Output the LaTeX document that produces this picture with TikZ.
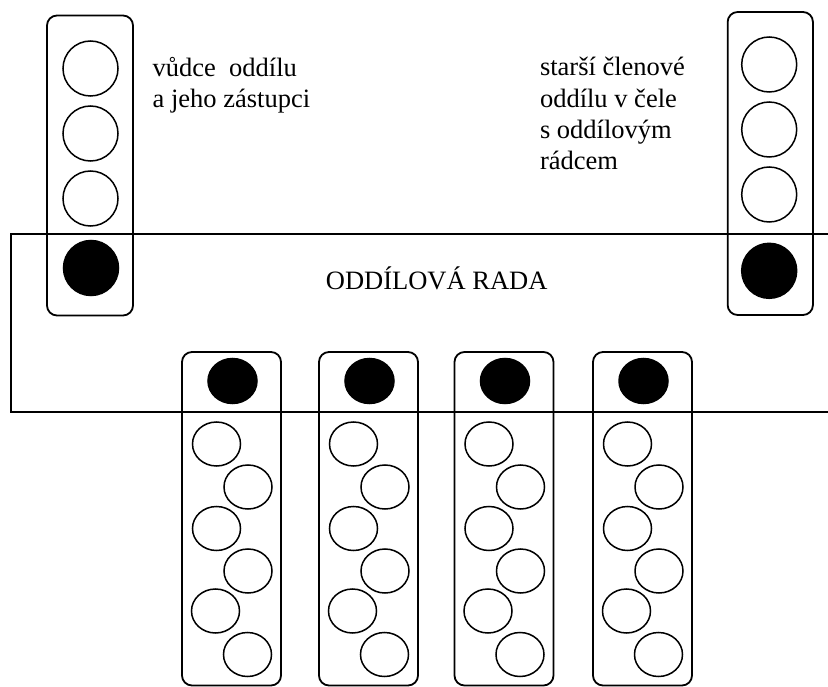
\documentclass[tikz,border=0pt]{standalone}
\usepackage{fontspec}
\setmainfont{Liberation Serif}
\usetikzlibrary{shapes.geometric}

\begin{document}
\begin{tikzpicture}[x=1pt, y=-1pt,
  every node/.append style={inner sep=0pt, outer sep=0pt},
  label text/.style={anchor=base west, font=\fontsize{26.5pt}{30pt}\selectfont},
  tallbox/.style={draw, line width=1.8pt, rounded corners=10pt, minimum width=86pt, minimum height=300pt},
  lowbox/.style={draw, line width=1.8pt, rounded corners=10pt, minimum width=99pt, minimum height=333.5pt},
  member/.style={circle, draw, line width=1.5pt, minimum size=55pt},
  leader/.style={member, fill=black},
  scout/.style={ellipse, draw, line width=1.5pt, minimum width=48pt, minimum height=44pt},
  patrolleader/.style={scout, fill=black, minimum width=49pt, minimum height=45pt}]
\useasboundingbox (0,0) rectangle (828,687);
% oddilova rada
\coordinate (rada ne) at (828,234);
\coordinate (rada nw) at (11,234);
\coordinate (rada sw) at (11,412);
\coordinate (rada se) at (828,412);
\draw[line width=1.8pt] (rada ne) -- (rada nw) -- (rada sw) -- (rada se);
\node[label text, anchor=base] (rada) at (436.7,289.3) {ODDÍLOVÁ RADA};
% vudce a zastupci
\node[tallbox] (leaders) at (90,165.5) {};
\node[member] (l1) at (90.5,68.5) {};
\node[member] (l2) at (90.5,133.5) {};
\node[member] (l3) at (90.5,198.5) {};
\node[leader] (l4) at (91,268) {};
\node[label text] (ltext1) at (152.7,76.5) {vůdce~~oddílu};
\node[label text] (ltext2) at (152.7,107.8) {a jeho zástupci};
% starsi clenove
\node[tallbox, minimum width=85.3pt, minimum height=303pt] (elders) at (770.3,163.5) {};
\node[member] (e1) at (769.2,64.5) {};
\node[member] (e2) at (769.2,129.5) {};
\node[member] (e3) at (769.2,194.5) {};
\node[leader] (e4) at (769.2,270.8) {};
\node[label text] (etext1) at (540,76) {starší členové};
\node[label text] (etext2) at (540,107.3) {oddílu v čele};
\node[label text] (etext3) at (540,138.6) {s oddílovým};
\node[label text] (etext4) at (540,169.9) {rádcem};
% druziny
\foreach \i/\cx in {1/231.5, 2/368.5, 3/504, 4/642.5} {
  \node[lowbox] (patrol\i) at (\cx,518.75) {};
  \node[patrolleader] (pl\i) at (\cx+1,381) {};
  \foreach \j/\dx/\cy in {1/-15/444, 2/16.5/487, 3/-15/528.5, 4/16.5/571, 5/-16/611, 6/16/654.5}
    \node[scout] (s\i\j) at (\cx+\dx,\cy) {};
}
\end{tikzpicture}
\end{document}
